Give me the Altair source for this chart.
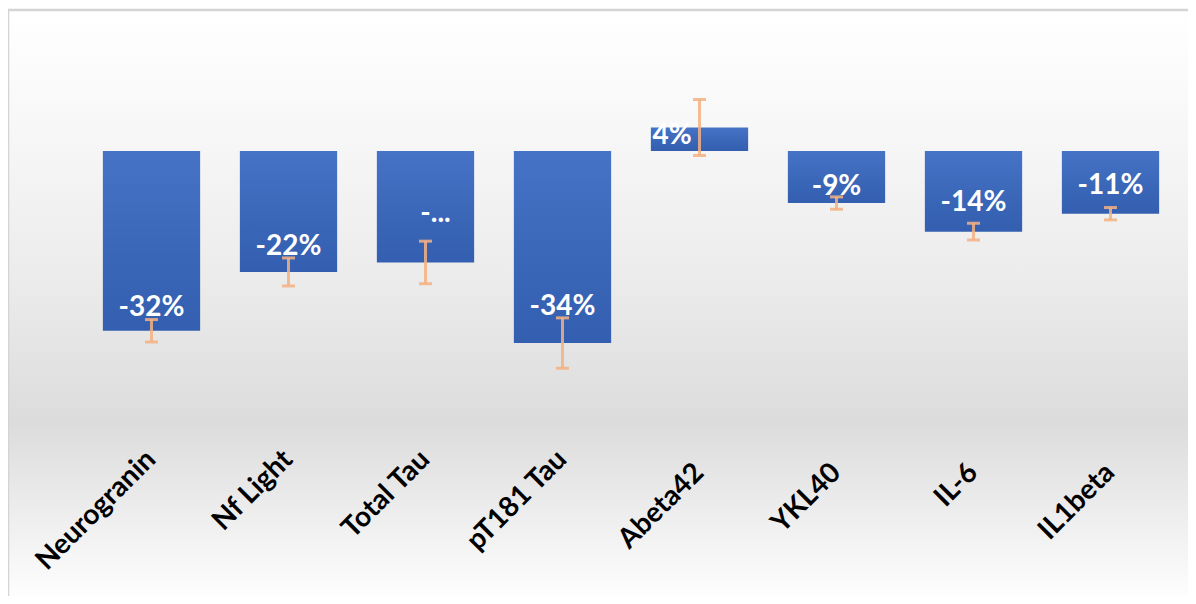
import altair as alt
import pandas as pd

# ---- data ----
categories = ["Neurogranin", "Nf Light", "Total Tau", "pT181 Tau", "Abeta42", "YKL40", "IL-6", "IL1beta"]
values = [-32.1, -21.6, -19.9, -34.3, 4.2, -9.3, -14.4, -11.2]          # % change
errors = [2.0, 2.5, 3.8, 4.5, 5.0, 1.1, 1.5, 1.1]                       # +/- error
labels = ["-32%", "-22%", "-...", "-34%", "4%", "-9%", "-14%", "-11%"]
label_at = [-28.1, -17.2, -11.3, -27.8, 2.7, -6.4, -9.3, -6.2]          # where each data label sits (value units)

df = pd.DataFrame({
    "cat": categories,
    "value": values,
    "err": errors,
    "label": labels,
    "label_at": label_at,
})

FONT = "Lato"
W, H = 1096, 392

right_group = "indexof(['Abeta42','YKL40','IL-6','IL1beta'], datum.value) >= 0"

x_enc = alt.X("cat:N", sort=categories, title=None,
              scale=alt.Scale(paddingInner=0.29, paddingOuter=0.145),
              axis=alt.Axis(labelAngle=-45, labelAlign="right", labelBaseline="middle",
                            labelFont=FONT, labelFontWeight="bold", labelFontSize=28,
                            labelColor="#000000",
                            labelPadding={"condition": {"test": right_group, "value": 37}, "value": 24},
                            labelLimit=400,
                            labelOverlap=False, domain=False, ticks=False, tickSize=0,
                            grid=False, zindex=1))
y_scale = alt.Scale(domain=[-50, 20], nice=False, zero=True)

bg_grad = alt.Gradient(
    gradient="linear", x1=0, x2=0, y1=0, y2=1,
    stops=[
        alt.GradientStop(color="#ffffff", offset=0.0),
        alt.GradientStop(color="#f7f7f7", offset=0.2),
        alt.GradientStop(color="#ebebeb", offset=0.45),
        alt.GradientStop(color="#dcdcdc", offset=0.68),
        alt.GradientStop(color="#fdfdfd", offset=0.96),
        alt.GradientStop(color="#ffffff", offset=1.0),
    ],
)

background = alt.Chart(pd.DataFrame({"k": [0]})).mark_rect(
    fill=bg_grad, stroke="#d4d4d4", strokeWidth=2.5
).encode(
    x=alt.value(-75), x2=alt.value(1125), y=alt.value(-29), y2=alt.value(580)
)

bar_grad = alt.Gradient(
    gradient="linear", x1=0, x2=0, y1=0, y2=1,
    stops=[
        alt.GradientStop(color="#4673c5", offset=0.0),
        alt.GradientStop(color="#3a66b8", offset=0.6),
        alt.GradientStop(color="#345fb0", offset=1.0),
    ],
)

base = alt.Chart(df)

bars = base.mark_bar(color=bar_grad).encode(
    x=x_enc,
    y=alt.Y("value:Q", scale=y_scale, axis=None),
)

err_base = base.transform_calculate(
    lo="datum.value - datum.err", hi="datum.value + datum.err"
)
err_rule = err_base.mark_rule(color="#f4b183", strokeWidth=3, opacity=0.85).encode(
    x=alt.X("cat:N", sort=categories),
    y=alt.Y("lo:Q", scale=y_scale, axis=None),
    y2="hi:Q",
)
cap_lo = err_base.mark_tick(color="#f4b183", size=13, thickness=3, opacity=0.85).encode(
    x=alt.X("cat:N", sort=categories),
    y=alt.Y("lo:Q", scale=y_scale, axis=None),
)
cap_hi = err_base.mark_tick(color="#f4b183", size=13, thickness=3, opacity=0.85).encode(
    x=alt.X("cat:N", sort=categories),
    y=alt.Y("hi:Q", scale=y_scale, axis=None),
)

text_style = dict(font=FONT, fontWeight="bold", fontSize=28, color="white", baseline="middle")
lab_main = base.transform_filter(
    "datum.cat != 'Abeta42' && datum.cat != 'Total Tau'"
).mark_text(align="center", **text_style).encode(
    x=alt.X("cat:N", sort=categories),
    y=alt.Y("label_at:Q", scale=y_scale, axis=None),
    text="label:N",
)
lab_abeta = base.transform_filter("datum.cat == 'Abeta42'").mark_text(
    align="left", dx=-47, **text_style
).encode(
    x=alt.X("cat:N", sort=categories),
    y=alt.Y("label_at:Q", scale=y_scale, axis=None),
    text="label:N",
)
lab_tau = base.transform_filter("datum.cat == 'Total Tau'").mark_text(
    align="center", dx=10, **text_style
).encode(
    x=alt.X("cat:N", sort=categories),
    y=alt.Y("label_at:Q", scale=y_scale, axis=None),
    text="label:N",
)

chart = alt.layer(
    background, bars, err_rule, cap_lo, cap_hi, lab_main, lab_abeta, lab_tau
).properties(
    width=W, height=H,
    autosize=alt.AutoSizeParams(type="none"),
    padding={"left": 75, "top": 31, "right": 9, "bottom": 165},
).configure_view(
    stroke=None
).configure(
    background="white"
)

chart.save("out.html", embed_options={"renderer": "svg", "actions": False})
